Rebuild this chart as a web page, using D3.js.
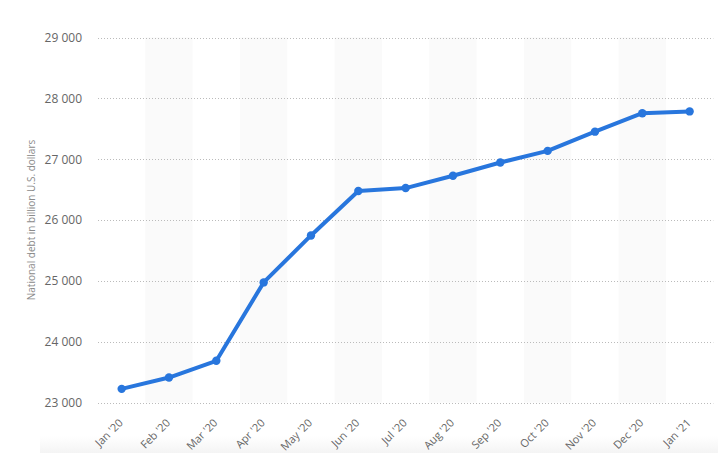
<!DOCTYPE html>
<html><head><meta charset="utf-8">
<script src="https://cdn.jsdelivr.net/npm/d3@7"></script>
<style>body{margin:0;background:#fff;}svg{display:block;font-family:"Open Sans",sans-serif;}</style>
</head><body>
<svg id="c" width="718" height="453"></svg>
<script>
const categories = ["Jan '20","Feb '20","Mar '20","Apr '20","May '20","Jun '20","Jul '20","Aug '20","Sep '20","Oct '20","Nov '20","Dec '20","Jan '21"];
const debtValues = [23224, 23410, 23686, 24974, 25746, 26477, 26525, 26728, 26945, 27136, 27452, 27755, 27785];
const yTicks = [23000, 24000, 25000, 26000, 27000, 28000, 29000];
const yTitle = "National debt in billion U.S. dollars";

const svg = d3.select("#c");
const pLeft = 98, pRight = 713.3, pTop = 37.5, pBottom = 402.5;

// bottom soft shade
const defs = svg.append("defs");
const g1 = defs.append("linearGradient").attr("id","bs").attr("x1",0).attr("y1",0).attr("x2",0).attr("y2",1);
g1.append("stop").attr("offset","0%").attr("stop-color","#fff");
g1.append("stop").attr("offset","100%").attr("stop-color","#f4f4f4");
svg.append("rect").attr("x",40).attr("y",436).attr("width",678).attr("height",17).attr("fill","url(#bs)");

const x = d3.scaleBand().domain(categories).range([pLeft, pRight]).padding(0);
const y = d3.scaleLinear().domain([23000, 29000]).range([pBottom, pTop]);

// alternating bands
svg.append("g").selectAll("rect").data(categories.filter((d,i)=>i%2===1)).join("rect")
  .attr("x", d=>x(d)).attr("y", pTop).attr("width", x.bandwidth()).attr("height", pBottom-pTop)
  .attr("fill", "#fafafa");

// y grid + labels
const yAxis = d3.axisLeft(y).tickValues(yTicks).tickSize(0).tickPadding(16)
  .tickFormat(d => d3.format(",")(d).replace(/,/g, " "));
const ya = svg.append("g").attr("transform", `translate(${pLeft},0)`).call(yAxis);
ya.select(".domain").remove();
ya.selectAll("text").attr("font-size", 12).attr("fill", "#666").attr("font-family", "'Open Sans',sans-serif");
svg.append("g").selectAll("line").data(yTicks).join("line")
  .attr("x1", pLeft).attr("x2", pRight).attr("y1", d=>Math.round(y(d))+0.5).attr("y2", d=>Math.round(y(d))+0.5)
  .attr("stroke", "#bbb").attr("stroke-dasharray", "1,2").attr("stroke-width", 1);

// x axis labels
const xAxis = d3.axisBottom(x).tickSize(0).tickPadding(0);
const xa = svg.append("g").attr("transform", `translate(0,${pBottom})`).call(xAxis);
xa.select(".domain").remove();
xa.selectAll("text").attr("font-size", 11).attr("fill", "#666").attr("font-family", "'Open Sans',sans-serif")
  .attr("text-anchor", "end").attr("dy", null)
  .attr("transform", "translate(2,21) rotate(-45)");

// y title
svg.append("text").attr("transform", `translate(35,${(pTop+pBottom)/2}) rotate(-90)`)
  .attr("text-anchor", "middle").attr("font-size", 10).attr("fill", "#8a8a8a").text(yTitle);

// line
const cx = d => x(d) + x.bandwidth()/2;
const line = d3.line().x((d,i)=>cx(categories[i])).y(d=>y(d));
svg.append("path").datum(debtValues).attr("d", line).attr("fill", "none")
  .attr("stroke", "#2876dd").attr("stroke-width", 4).attr("stroke-linejoin", "round");
svg.append("g").selectAll("circle").data(debtValues).join("circle")
  .attr("cx", (d,i)=>cx(categories[i])).attr("cy", d=>y(d)).attr("r", 4.2).attr("fill", "#2876dd");
</script>
</body></html>
